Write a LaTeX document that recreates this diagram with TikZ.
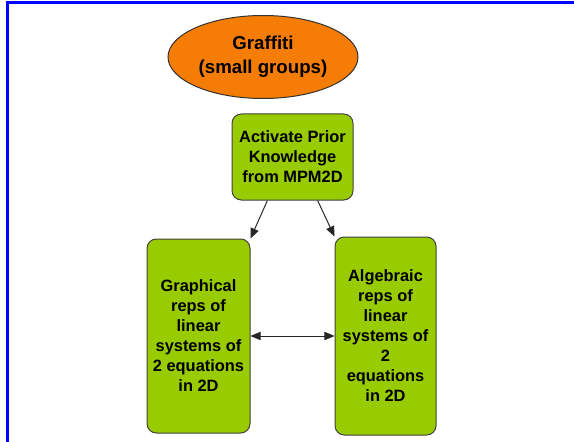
\documentclass[tikz,border=0pt]{standalone}
\usepackage{fontspec}
\setmainfont{Liberation Sans}
\usepackage{xcolor}
\usepackage{tikz}
\usetikzlibrary{arrows,shapes.geometric}

\definecolor{graforange}{RGB}{245,124,5}
\definecolor{boxgreen}{RGB}{153,204,0}
\definecolor{frameblue}{RGB}{0,0,255}

\tikzset{
  topic/.style={ellipse,draw=black!80,fill=graforange,inner sep=0pt,
    minimum width=142.5pt,minimum height=62.25pt,align=center,
    font=\fontsize{14}{18}\selectfont\bfseries},
  stepbox/.style={rectangle,rounded corners=7pt,draw=black!75,fill=boxgreen,
    inner sep=0pt,align=center,font=\fontsize{12.3}{15}\selectfont\bfseries},
}

\begin{document}
\begin{tikzpicture}[x=0.75pt,y=-0.75pt,>=triangle 45,line width=0.75pt]
        \useasboundingbox (0,0) rectangle (574,442);

        % Frame.
        \draw[frameblue,line width=2.25pt] (7.5,442) -- (7.5,2.5) -- (574,2.5);

        % Title.
        \node[topic] (graffiti) at (263,57) {Graffiti\\(small groups)};

        % Boxes.
        \node[stepbox,minimum width=90.75pt,minimum height=64.5pt] (prior) at (292.5,157)
            {Activate Prior\\Knowledge\\from MPM2D};
        \node[stepbox,minimum width=77.25pt,minimum height=145.5pt] (graph) at (198.5,336)
            {Graphical\\reps of\\linear\\systems of\\2 equations\\in 2D};
        \node[stepbox,minimum width=75.75pt,minimum height=148.5pt] (alg) at (385.5,336)
            {Algebraic\\reps of\\linear\\systems of\\2\\equations\\in 2D};

        % Connections.
        \draw[->,black!85] (prior.-120) -- (graph.north east);
        \draw[->,black!85] (prior.-60) -- (alg.north west);
        \draw[<->,black!85] (graph.east) -- (alg.west);
    \end{tikzpicture}
\end{document}
